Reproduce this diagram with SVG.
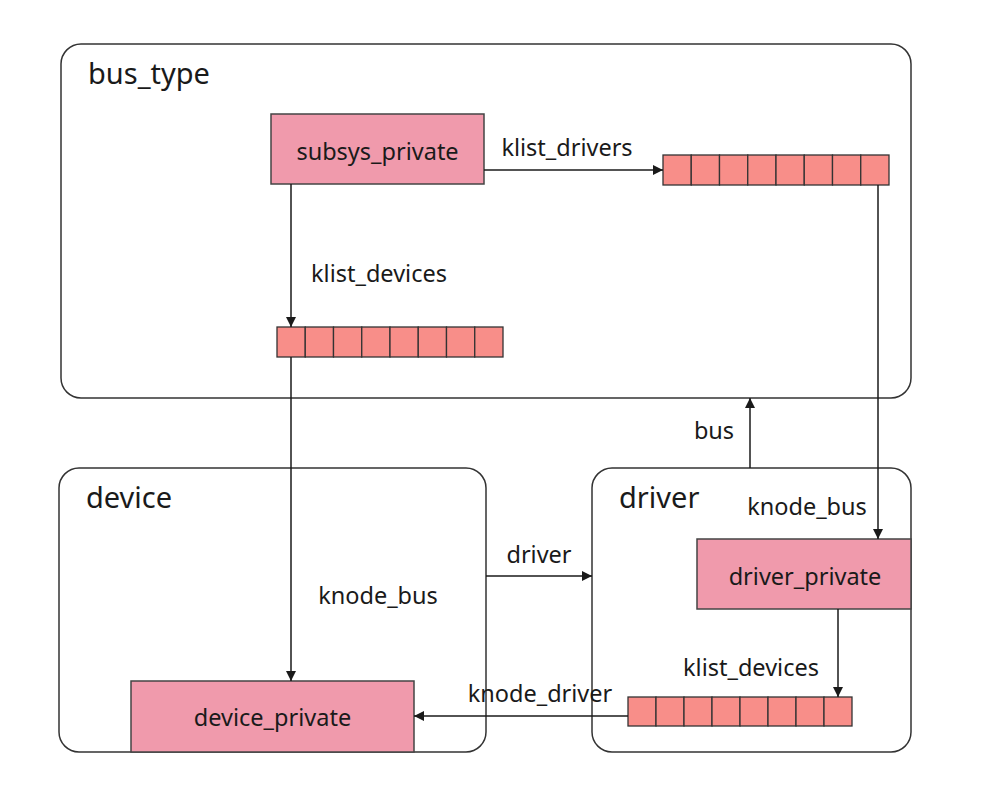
<svg xmlns="http://www.w3.org/2000/svg" width="988" height="789" viewBox="0 0 988 789">
<defs>
<marker id="arr" viewBox="0 0 10 10" refX="10" refY="5" markerWidth="10" markerHeight="10" markerUnits="userSpaceOnUse" orient="auto">
<path d="M0,0 L10,5 L0,10 z" fill="#1a1a1a"/>
</marker>
</defs>
<style>
.cont{fill:#fff;stroke:#333;stroke-width:1.5}
.pink{fill:#f09aac;stroke:#444;stroke-width:1.5}
.cell{fill:#f88e89;stroke:#333;stroke-width:1.3}
.title{font-family:"Noto Sans","Open Sans",sans-serif;font-size:29px;fill:#1a1a1a}
.lbl{font-family:"Noto Sans","Open Sans",sans-serif;font-size:23.5px;fill:#1a1a1a}
.conn{fill:none;stroke:#1a1a1a;stroke-width:1.5}
</style>
<rect width="988" height="789" fill="#fff"/>
<g id="bus_type">
<rect class="cont" x="61" y="44" width="850" height="354" rx="20"/>
<text class="title" x="88" y="84">bus_type</text>
</g>
<g id="device">
<rect class="cont" x="59" y="468" width="427" height="284" rx="20"/>
<text class="title" x="86" y="508">device</text>
</g>
<g id="driver">
<rect class="cont" x="592" y="468" width="319" height="284" rx="20"/>
<text class="title" x="619" y="508">driver</text>
</g>
<g id="subsys_private">
<rect class="pink" x="271" y="114" width="213" height="70"/>
<text class="lbl" x="377.5" y="160" text-anchor="middle">subsys_private</text>
</g>
<g id="klist_drivers_array">
<rect class="cell" x="663" y="155" width="28.25" height="30"/>
<rect class="cell" x="691.25" y="155" width="28.25" height="30"/>
<rect class="cell" x="719.5" y="155" width="28.25" height="30"/>
<rect class="cell" x="747.75" y="155" width="28.25" height="30"/>
<rect class="cell" x="776" y="155" width="28.25" height="30"/>
<rect class="cell" x="804.25" y="155" width="28.25" height="30"/>
<rect class="cell" x="832.5" y="155" width="28.25" height="30"/>
<rect class="cell" x="860.75" y="155" width="28.25" height="30"/>
</g>
<g id="klist_devices_array">
<rect class="cell" x="277" y="327" width="28.25" height="30"/>
<rect class="cell" x="305.25" y="327" width="28.25" height="30"/>
<rect class="cell" x="333.5" y="327" width="28.25" height="30"/>
<rect class="cell" x="361.75" y="327" width="28.25" height="30"/>
<rect class="cell" x="390" y="327" width="28.25" height="30"/>
<rect class="cell" x="418.25" y="327" width="28.25" height="30"/>
<rect class="cell" x="446.5" y="327" width="28.25" height="30"/>
<rect class="cell" x="474.75" y="327" width="28.25" height="30"/>
</g>
<g id="device_private">
<rect class="pink" x="131" y="681" width="283" height="71"/>
<text class="lbl" x="272.5" y="726" text-anchor="middle">device_private</text>
</g>
<g id="driver_private">
<rect class="pink" x="697" y="539" width="214" height="70"/>
<text class="lbl" x="805" y="585" text-anchor="middle">driver_private</text>
</g>
<g id="driver_klist_devices_array">
<rect class="cell" x="628" y="697" width="28" height="29"/>
<rect class="cell" x="656" y="697" width="28" height="29"/>
<rect class="cell" x="684" y="697" width="28" height="29"/>
<rect class="cell" x="712" y="697" width="28" height="29"/>
<rect class="cell" x="740" y="697" width="28" height="29"/>
<rect class="cell" x="768" y="697" width="28" height="29"/>
<rect class="cell" x="796" y="697" width="28" height="29"/>
<rect class="cell" x="824" y="697" width="28" height="29"/>
</g>
<g id="connectors">
<path class="conn" d="M484,170 L663,170" marker-end="url(#arr)"/>
<text class="lbl" x="567" y="156" text-anchor="middle">klist_drivers</text>
<path class="conn" d="M291,184 L291,327" marker-end="url(#arr)"/>
<text class="lbl" x="379" y="282" text-anchor="middle">klist_devices</text>
<path class="conn" d="M291,357 L291,681" marker-end="url(#arr)"/>
<text class="lbl" x="378" y="604" text-anchor="middle">knode_bus</text>
<path class="conn" d="M878,185 L878,539" marker-end="url(#arr)"/>
<text class="lbl" x="807" y="515" text-anchor="middle">knode_bus</text>
<path class="conn" d="M750,468 L750,398" marker-end="url(#arr)"/>
<text class="lbl" x="714" y="439" text-anchor="middle">bus</text>
<path class="conn" d="M486,576 L592,576" marker-end="url(#arr)"/>
<text class="lbl" x="539" y="563" text-anchor="middle">driver</text>
<path class="conn" d="M838,609 L838,697" marker-end="url(#arr)"/>
<text class="lbl" x="751" y="676" text-anchor="middle">klist_devices</text>
<path class="conn" d="M628,716 L414,716" marker-end="url(#arr)"/>
<text class="lbl" x="540" y="702" text-anchor="middle">knode_driver</text>
</g>
</svg>
